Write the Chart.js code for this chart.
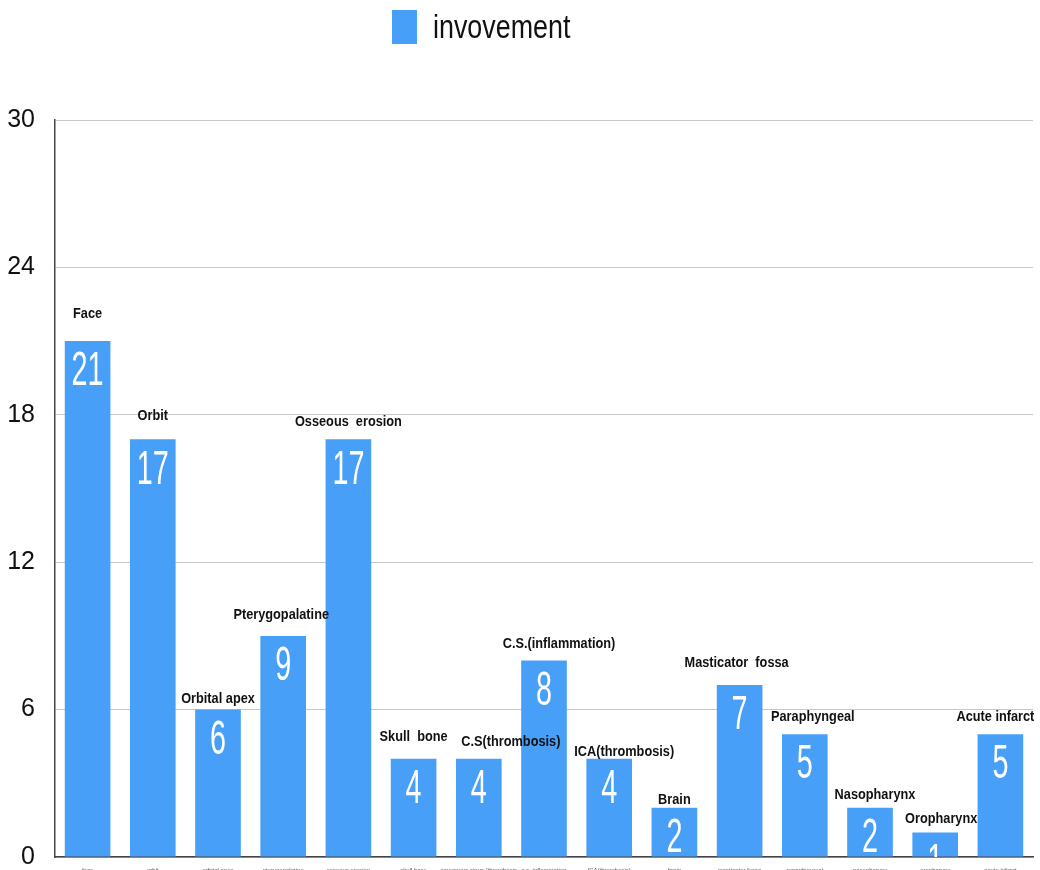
<!DOCTYPE html>
<html>
<head>
<meta charset="utf-8">
<script src="https://cdn.jsdelivr.net/npm/chart.js@4.4.1/dist/chart.umd.min.js"></script>
<style>
  body { margin: 0; background: #fff; }
  #chart { display: block; }
</style>
</head>
<body>
<canvas id="chart" width="1040" height="870"></canvas>
<script>
const categories = [
  "face", "orbit", "orbital apex", "pterygopalatine", "osseous erosion",
  "skull base", "cavernous sinus (thrombosis", "c.s. inflammation",
  "ICA(thrombosis)", "brain", "masticator fossa", "paraphyngeal",
  "nasopharynx", "oropharynx", "acute infarct",
];
const involvement = [21, 17, 6, 9, 17, 4, 4, 8, 4, 2, 7, 5, 2, 1, 5];
const barNotes = [
  "Face", "Orbit", "Orbital apex", "Pterygopalatine", "Osseous  erosion",
  "Skull  bone", "C.S(thrombosis)", "C.S.(inflammation)", "ICA(thrombosis)",
  "Brain", "Masticator  fossa", "Paraphyngeal", "Nasopharynx", "Oropharynx",
  "Acute infarct",
];
const yTicks = [0, 6, 12, 18, 24, 30];
const seriesName = "invovement";

const BLUE = "#479ff8";
const FONT = '"Liberation Sans", Arial, sans-serif';

// how far each note sits above its bar, and how far it drifts sideways (px)
const noteLift = [27, 24, 11, 21, 18, 22, 17, 17, 7, 8, 22, 17, 13, 14, 17];
const noteShift = [0, 0, 0, -2, 0, 0, 32, 15, 15, 0, -3, 8, 5, 6, -5];

// condensed look: squeeze text horizontally
function squeezedText(ctx, text, x, y, sx) {
  ctx.save();
  ctx.translate(x, y);
  ctx.scale(sx, 1);
  ctx.fillText(text, 0, 0);
  ctx.restore();
}

const valueLabels = {
  id: "valueLabels",
  afterDatasetsDraw(chart) {
    const { ctx, chartArea } = chart;
    const meta = chart.getDatasetMeta(0);
    ctx.save();
    ctx.beginPath();
    ctx.rect(chartArea.left, chartArea.top, chartArea.width, chartArea.height);
    ctx.clip();
    ctx.fillStyle = "#fff";
    ctx.font = "48px " + FONT;
    ctx.textAlign = "center";
    ctx.textBaseline = "middle";
    meta.data.forEach((bar, i) => {
      squeezedText(ctx, String(involvement[i]), bar.x, bar.y + 31, 0.6);
    });
    ctx.restore();

    // notes above bars
    ctx.save();
    ctx.fillStyle = "#111";
    ctx.font = "bold 15px " + FONT;
    ctx.textAlign = "center";
    ctx.textBaseline = "middle";
    meta.data.forEach((bar, i) => {
      squeezedText(ctx, barNotes[i], bar.x + noteShift[i], bar.y - noteLift[i], 0.85);
    });
    ctx.restore();
  },
};

const topLegend = {
  id: "topLegend",
  afterDraw(chart) {
    const { ctx } = chart;
    ctx.save();
    ctx.fillStyle = BLUE;
    ctx.fillRect(392, 10, 25, 34);
    ctx.fillStyle = "#111";
    ctx.font = "34px " + FONT;
    ctx.textAlign = "left";
    ctx.textBaseline = "middle";
    squeezedText(ctx, chart.data.datasets[0].label, 433, 29, 0.79);
    ctx.restore();
  },
};

new Chart(document.getElementById("chart"), {
  type: "bar",
  data: {
    labels: categories,
    datasets: [
      {
        label: seriesName,
        data: involvement,
        backgroundColor: BLUE,
        barPercentage: 0.7,
        categoryPercentage: 1,
      },
    ],
  },
  options: {
    responsive: false,
    animation: false,
    layout: { padding: { top: 120, right: 7, left: 0, bottom: 0 } },
    plugins: {
      legend: { display: false },
      tooltip: { enabled: false },
    },
    scales: {
      x: {
        grid: { display: false },
        border: { color: "#444", width: 1.5 },
        ticks: {
          color: "#555",
          font: { size: 6, family: FONT },
          maxRotation: 0,
          autoSkip: false,
          padding: 2,
        },
        afterFit(scale) {
          scale.height = 13;
        },
      },
      y: {
        min: yTicks[0],
        max: yTicks[yTicks.length - 1],
        afterBuildTicks(scale) {
          scale.ticks = yTicks.map((v) => ({ value: v }));
        },
        grid: { color: "#c8c8c8", drawTicks: false },
        border: { color: "#444", width: 1.5 },
        ticks: {
          color: "#111",
          font: { size: 25, family: FONT },
          padding: 20,
        },
        afterFit(scale) {
          scale.width = 55;
          // tick padding would otherwise push the plot in from top and bottom
          scale.paddingTop = 0;
          scale.paddingBottom = 0;
        },
      },
    },
  },
  plugins: [valueLabels, topLegend],
});
</script>
</body>
</html>
